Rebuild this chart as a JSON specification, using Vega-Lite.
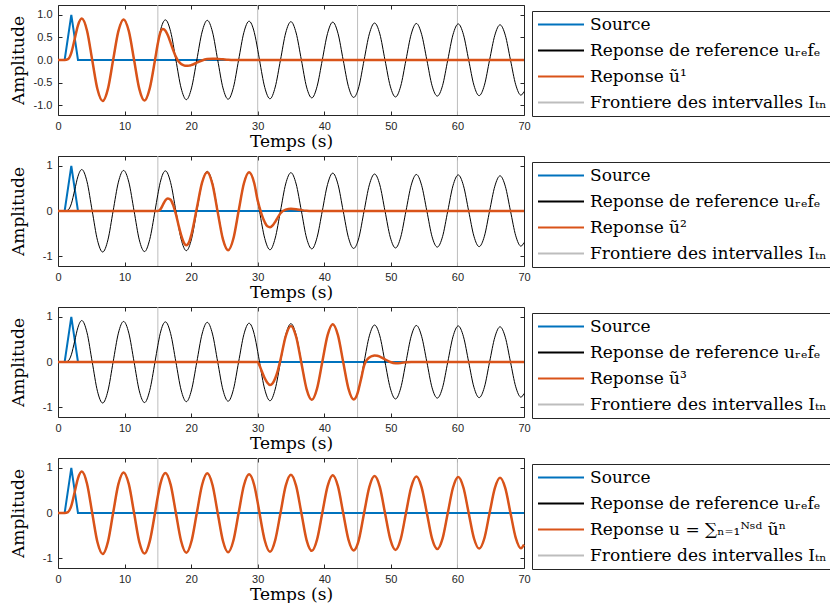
{
  "$schema": "https://vega.github.io/schema/vega-lite/v6.json",
  "background": "white",
  "padding": {"left": 8, "top": 4, "right": 0, "bottom": 0},
  "spacing": 5,
  "datasets": {
    "bnd": [{"t": 15}, {"t": 30}, {"t": 45}, {"t": 60}],
    "src": [{"t": 0, "y": 0}, {"t": 1, "y": 0}, {"t": 2, "y": 1}, {"t": 3, "y": 0}, {"t": 70, "y": 0}],
    "ref": [
      {"t": 0, "y": 0}, {"t": 1, "y": 0}, {"t": 1.5, "y": 0.02}, {"t": 2, "y": 0.16}, {"t": 2.5, "y": 0.46}, {"t": 3, "y": 0.77},
      {"t": 3.57, "y": 0.92}, {"t": 4.36, "y": 0.65}, {"t": 5.14, "y": 0}, {"t": 5.93, "y": -0.65}, {"t": 6.71, "y": -0.91}, {"t": 7.5, "y": -0.64},
      {"t": 8.28, "y": 0}, {"t": 9.07, "y": 0.64}, {"t": 9.85, "y": 0.9}, {"t": 10.64, "y": 0.64}, {"t": 11.43, "y": 0}, {"t": 12.21, "y": -0.64},
      {"t": 13, "y": -0.9}, {"t": 13.78, "y": -0.63}, {"t": 14.57, "y": 0}, {"t": 15, "y": 0.37}, {"t": 15.35, "y": 0.63}, {"t": 16.14, "y": 0.89},
      {"t": 16.92, "y": 0.63}, {"t": 17.71, "y": 0}, {"t": 18.49, "y": -0.62}, {"t": 19.28, "y": -0.88}, {"t": 20.06, "y": -0.62}, {"t": 20.85, "y": 0},
      {"t": 21.64, "y": 0.62}, {"t": 22.42, "y": 0.88}, {"t": 23.21, "y": 0.62}, {"t": 23.99, "y": 0}, {"t": 24.78, "y": -0.62}, {"t": 25.56, "y": -0.87},
      {"t": 26.35, "y": -0.61}, {"t": 27.13, "y": 0}, {"t": 27.92, "y": 0.61}, {"t": 28.7, "y": 0.86}, {"t": 29.49, "y": 0.61}, {"t": 30, "y": 0.23},
      {"t": 30.27, "y": 0}, {"t": 31.06, "y": -0.61}, {"t": 31.85, "y": -0.86}, {"t": 32.63, "y": -0.6}, {"t": 33.42, "y": 0}, {"t": 34.2, "y": 0.6},
      {"t": 34.99, "y": 0.85}, {"t": 35.77, "y": 0.6}, {"t": 36.56, "y": 0}, {"t": 37.34, "y": -0.6}, {"t": 38.13, "y": -0.84}, {"t": 38.91, "y": -0.59},
      {"t": 39.7, "y": 0}, {"t": 40.49, "y": 0.59}, {"t": 41.27, "y": 0.84}, {"t": 42.06, "y": 0.59}, {"t": 42.84, "y": 0}, {"t": 43.63, "y": -0.59},
      {"t": 44.41, "y": -0.83}, {"t": 45, "y": -0.69}, {"t": 45.2, "y": -0.59}, {"t": 45.98, "y": 0}, {"t": 46.77, "y": 0.58}, {"t": 47.55, "y": 0.82},
      {"t": 48.34, "y": 0.58}, {"t": 49.12, "y": 0}, {"t": 49.91, "y": -0.58}, {"t": 50.7, "y": -0.82}, {"t": 51.48, "y": -0.58}, {"t": 52.27, "y": 0},
      {"t": 53.05, "y": 0.57}, {"t": 53.84, "y": 0.81}, {"t": 54.62, "y": 0.57}, {"t": 55.41, "y": 0}, {"t": 56.19, "y": -0.57}, {"t": 56.98, "y": -0.8},
      {"t": 57.76, "y": -0.57}, {"t": 58.55, "y": 0}, {"t": 59.33, "y": 0.56}, {"t": 60.12, "y": 0.8}, {"t": 60.91, "y": 0.56}, {"t": 61.69, "y": 0},
      {"t": 62.48, "y": -0.56}, {"t": 63.26, "y": -0.79}, {"t": 64.05, "y": -0.56}, {"t": 64.83, "y": 0}, {"t": 65.62, "y": 0.55}, {"t": 66.4, "y": 0.78},
      {"t": 67.19, "y": 0.55}, {"t": 67.97, "y": 0}, {"t": 68.76, "y": -0.55}, {"t": 69.54, "y": -0.78}, {"t": 70, "y": -0.7}
    ],
    "u1": [
      {"t": 0, "y": 0}, {"t": 1, "y": 0}, {"t": 1.5, "y": 0.02}, {"t": 2, "y": 0.16}, {"t": 2.5, "y": 0.46}, {"t": 3, "y": 0.77},
      {"t": 3.57, "y": 0.92}, {"t": 4.36, "y": 0.65}, {"t": 5.14, "y": 0}, {"t": 5.93, "y": -0.65}, {"t": 6.71, "y": -0.91}, {"t": 7.5, "y": -0.64},
      {"t": 8.28, "y": 0}, {"t": 9.07, "y": 0.64}, {"t": 9.85, "y": 0.9}, {"t": 10.64, "y": 0.64}, {"t": 11.43, "y": 0}, {"t": 12.21, "y": -0.64},
      {"t": 13, "y": -0.9}, {"t": 13.78, "y": -0.63}, {"t": 14.57, "y": 0}, {"t": 15, "y": 0.37}, {"t": 15.35, "y": 0.6}, {"t": 15.75, "y": 0.69},
      {"t": 16.14, "y": 0.65}, {"t": 16.5, "y": 0.55}, {"t": 16.92, "y": 0.38}, {"t": 17.3, "y": 0.22}, {"t": 17.71, "y": 0.07}, {"t": 18.1, "y": -0.03},
      {"t": 18.49, "y": -0.09}, {"t": 18.9, "y": -0.12}, {"t": 19.28, "y": -0.13}, {"t": 19.7, "y": -0.125}, {"t": 20.06, "y": -0.11}, {"t": 20.85, "y": -0.06},
      {"t": 21.64, "y": -0.01}, {"t": 22.42, "y": 0.02}, {"t": 23.21, "y": 0.03}, {"t": 23.99, "y": 0.025}, {"t": 24.78, "y": 0.015}, {"t": 25.56, "y": 0.005},
      {"t": 26.35, "y": 0}, {"t": 70, "y": 0}
    ],
    "u2": [
      {"t": 0, "y": 0}, {"t": 15, "y": 0}, {"t": 15.35, "y": 0.03}, {"t": 15.75, "y": 0.135}, {"t": 16.14, "y": 0.24}, {"t": 16.5, "y": 0.28},
      {"t": 16.92, "y": 0.25}, {"t": 17.3, "y": 0.13}, {"t": 17.71, "y": -0.07}, {"t": 18.1, "y": -0.31}, {"t": 18.49, "y": -0.53}, {"t": 18.9, "y": -0.7},
      {"t": 19.28, "y": -0.76}, {"t": 19.7, "y": -0.69}, {"t": 20.06, "y": -0.51}, {"t": 20.85, "y": 0.06}, {"t": 21.64, "y": 0.63}, {"t": 22.42, "y": 0.86},
      {"t": 23.21, "y": 0.59}, {"t": 23.99, "y": -0.025}, {"t": 24.78, "y": -0.63}, {"t": 25.56, "y": -0.87}, {"t": 26.35, "y": -0.61}, {"t": 27.13, "y": 0},
      {"t": 27.92, "y": 0.61}, {"t": 28.7, "y": 0.86}, {"t": 29.49, "y": 0.61}, {"t": 30, "y": 0.23}, {"t": 30.27, "y": 0.08}, {"t": 30.6, "y": -0.08},
      {"t": 31.06, "y": -0.25}, {"t": 31.45, "y": -0.34}, {"t": 31.85, "y": -0.36}, {"t": 32.25, "y": -0.32}, {"t": 32.63, "y": -0.24}, {"t": 33.02, "y": -0.14},
      {"t": 33.42, "y": -0.05}, {"t": 34.2, "y": 0.03}, {"t": 34.99, "y": 0.05}, {"t": 35.77, "y": 0.04}, {"t": 36.56, "y": 0.02}, {"t": 37.34, "y": 0.005},
      {"t": 38.13, "y": 0}, {"t": 70, "y": 0}
    ],
    "u3": [
      {"t": 0, "y": 0}, {"t": 30, "y": 0}, {"t": 30.27, "y": -0.08}, {"t": 30.6, "y": -0.2}, {"t": 31.06, "y": -0.36}, {"t": 31.45, "y": -0.46},
      {"t": 31.85, "y": -0.51}, {"t": 32.25, "y": -0.47}, {"t": 32.63, "y": -0.36}, {"t": 33.02, "y": -0.19}, {"t": 33.42, "y": 0.05}, {"t": 34.2, "y": 0.57},
      {"t": 34.99, "y": 0.8}, {"t": 35.77, "y": 0.56}, {"t": 36.56, "y": -0.02}, {"t": 37.34, "y": -0.6}, {"t": 38.13, "y": -0.84}, {"t": 38.91, "y": -0.59},
      {"t": 39.7, "y": 0}, {"t": 40.49, "y": 0.59}, {"t": 41.27, "y": 0.84}, {"t": 42.06, "y": 0.59}, {"t": 42.84, "y": 0}, {"t": 43.63, "y": -0.59},
      {"t": 44.41, "y": -0.83}, {"t": 45, "y": -0.69}, {"t": 45.2, "y": -0.58}, {"t": 45.6, "y": -0.33}, {"t": 45.98, "y": -0.08}, {"t": 46.37, "y": 0.04},
      {"t": 46.77, "y": 0.1}, {"t": 47.16, "y": 0.13}, {"t": 47.55, "y": 0.145}, {"t": 47.95, "y": 0.14}, {"t": 48.34, "y": 0.12}, {"t": 49.12, "y": 0.06},
      {"t": 49.91, "y": 0}, {"t": 50.7, "y": -0.025}, {"t": 51.48, "y": -0.02}, {"t": 52.27, "y": -0.005}, {"t": 53.05, "y": 0}, {"t": 70, "y": 0}
    ]
  },
  "config": {
    "view": {"stroke": "#262626", "strokeWidth": 1},
    "axis": {
      "labelFont": "Liberation Sans", "labelFontSize": 11, "labelColor": "#262626",
      "tickColor": "#262626", "tickSize": -4, "tickWidth": 1, "domain": false, "grid": false,
      "titleFont": "DejaVu Serif", "titleFontSize": 17, "titleFontWeight": "normal", "titleColor": "#000000",
      "labelFlush": false
    },
    "legend": {
      "symbolType": "stroke", "symbolSize": 2116, "symbolStrokeWidth": 2, "clipHeight": 17, "rowPadding": 8, "padding": 5,
      "labelFont": "DejaVu Serif", "labelFontSize": 17, "labelColor": "#000000", "labelLimit": 600, "labelOffset": 5,
      "strokeColor": "#262626", "fillColor": "white"
    },
    "line": {"interpolate": "monotone"}
  },
  "resolve": {
    "scale": {"color": "independent"},
    "legend": {"color": "independent"}
  },
  "vconcat": [
    {
      "width": 466, "height": 110,
      "resolve": {"axis": {"x": "independent", "y": "independent"}},
      "layer": [
        {
          "data": {"name": "bnd"}, "mark": {"type": "rule", "strokeWidth": 1},
          "encoding": {
            "x": {"field": "t", "type": "quantitative", "scale": {"domain": [0, 70], "nice": false},
                  "axis": {"orient": "bottom", "values": [0, 10, 20, 30, 40, 50, 60, 70], "title": "Temps (s)", "labelPadding": 9, "titlePadding": 2}},
            "color": {"datum": "Frontiere des intervalles Iₜₙ", "type": "nominal",
                      "scale": {"domain": ["Source", "Reponse de reference uᵣₑfₑ", "Reponse ũ¹", "Frontiere des intervalles Iₜₙ"], "range": ["#0072BD", "#000000", "#D95319", "#BDBDBD"]},
                      "legend": {"title": null, "orient": "none", "legendX": 474, "legendY": 6}}
          }
        },
        {
          "data": {"name": "src"}, "mark": {"type": "line", "interpolate": "linear", "strokeWidth": 2},
          "encoding": {
            "x": {"field": "t", "type": "quantitative", "axis": null},
            "y": {"field": "y", "type": "quantitative", "scale": {"domain": [-1.22, 1.22], "nice": false},
                  "axis": {"orient": "left", "values": [-1, -0.5, 0, 0.5, 1], "title": "Amplitude", "labelPadding": 10, "titlePadding": 7, "minExtent": 24, "maxExtent": 24, "labelExpr": "replace(datum.label, '−', '-')"}},
            "color": {"datum": "Source", "type": "nominal"}
          }
        },
        {
          "data": {"name": "ref"}, "mark": {"type": "line", "strokeWidth": 1},
          "encoding": {
            "x": {"field": "t", "type": "quantitative", "axis": {"orient": "top", "values": [0, 10, 20, 30, 40, 50, 60, 70], "labels": false, "title": null, "minExtent": 0}},
            "y": {"field": "y", "type": "quantitative", "axis": {"orient": "right", "values": [-1, -0.5, 0, 0.5, 1], "labels": false, "title": null, "minExtent": 0}},
            "color": {"datum": "Reponse de reference uᵣₑfₑ", "type": "nominal"}
          }
        },
        {
          "data": {"name": "u1"}, "mark": {"type": "line", "strokeWidth": 2.5},
          "encoding": {
            "x": {"field": "t", "type": "quantitative", "axis": null},
            "y": {"field": "y", "type": "quantitative", "axis": null},
            "color": {"datum": "Reponse ũ¹", "type": "nominal"}
          }
        }
      ]
    },
    {
      "width": 466, "height": 110,
      "resolve": {"axis": {"x": "independent", "y": "independent"}},
      "layer": [
        {
          "data": {"name": "bnd"}, "mark": {"type": "rule", "strokeWidth": 1},
          "encoding": {
            "x": {"field": "t", "type": "quantitative", "scale": {"domain": [0, 70], "nice": false},
                  "axis": {"orient": "bottom", "values": [0, 10, 20, 30, 40, 50, 60, 70], "title": "Temps (s)", "labelPadding": 9, "titlePadding": 2}},
            "color": {"datum": "Frontiere des intervalles Iₜₙ", "type": "nominal",
                      "scale": {"domain": ["Source", "Reponse de reference uᵣₑfₑ", "Reponse ũ²", "Frontiere des intervalles Iₜₙ"], "range": ["#0072BD", "#000000", "#D95319", "#BDBDBD"]},
                      "legend": {"title": null, "orient": "none", "legendX": 474, "legendY": 6}}
          }
        },
        {
          "data": {"name": "src"}, "mark": {"type": "line", "interpolate": "linear", "strokeWidth": 2},
          "encoding": {
            "x": {"field": "t", "type": "quantitative", "axis": null},
            "y": {"field": "y", "type": "quantitative", "scale": {"domain": [-1.22, 1.22], "nice": false},
                  "axis": {"orient": "left", "values": [-1, 0, 1], "title": "Amplitude", "labelPadding": 10, "titlePadding": 7, "minExtent": 24, "maxExtent": 24, "labelExpr": "replace(datum.label, '−', '-')"}},
            "color": {"datum": "Source", "type": "nominal"}
          }
        },
        {
          "data": {"name": "ref"}, "mark": {"type": "line", "strokeWidth": 1},
          "encoding": {
            "x": {"field": "t", "type": "quantitative", "axis": {"orient": "top", "values": [0, 10, 20, 30, 40, 50, 60, 70], "labels": false, "title": null, "minExtent": 0}},
            "y": {"field": "y", "type": "quantitative", "axis": {"orient": "right", "values": [-1, 0, 1], "labels": false, "title": null, "minExtent": 0}},
            "color": {"datum": "Reponse de reference uᵣₑfₑ", "type": "nominal"}
          }
        },
        {
          "data": {"name": "u2"}, "mark": {"type": "line", "strokeWidth": 2.5},
          "encoding": {
            "x": {"field": "t", "type": "quantitative", "axis": null},
            "y": {"field": "y", "type": "quantitative", "axis": null},
            "color": {"datum": "Reponse ũ²", "type": "nominal"}
          }
        }
      ]
    },
    {
      "width": 466, "height": 110,
      "resolve": {"axis": {"x": "independent", "y": "independent"}},
      "layer": [
        {
          "data": {"name": "bnd"}, "mark": {"type": "rule", "strokeWidth": 1},
          "encoding": {
            "x": {"field": "t", "type": "quantitative", "scale": {"domain": [0, 70], "nice": false},
                  "axis": {"orient": "bottom", "values": [0, 10, 20, 30, 40, 50, 60, 70], "title": "Temps (s)", "labelPadding": 9, "titlePadding": 2}},
            "color": {"datum": "Frontiere des intervalles Iₜₙ", "type": "nominal",
                      "scale": {"domain": ["Source", "Reponse de reference uᵣₑfₑ", "Reponse ũ³", "Frontiere des intervalles Iₜₙ"], "range": ["#0072BD", "#000000", "#D95319", "#BDBDBD"]},
                      "legend": {"title": null, "orient": "none", "legendX": 474, "legendY": 6}}
          }
        },
        {
          "data": {"name": "src"}, "mark": {"type": "line", "interpolate": "linear", "strokeWidth": 2},
          "encoding": {
            "x": {"field": "t", "type": "quantitative", "axis": null},
            "y": {"field": "y", "type": "quantitative", "scale": {"domain": [-1.22, 1.22], "nice": false},
                  "axis": {"orient": "left", "values": [-1, 0, 1], "title": "Amplitude", "labelPadding": 10, "titlePadding": 7, "minExtent": 24, "maxExtent": 24, "labelExpr": "replace(datum.label, '−', '-')"}},
            "color": {"datum": "Source", "type": "nominal"}
          }
        },
        {
          "data": {"name": "ref"}, "mark": {"type": "line", "strokeWidth": 1},
          "encoding": {
            "x": {"field": "t", "type": "quantitative", "axis": {"orient": "top", "values": [0, 10, 20, 30, 40, 50, 60, 70], "labels": false, "title": null, "minExtent": 0}},
            "y": {"field": "y", "type": "quantitative", "axis": {"orient": "right", "values": [-1, 0, 1], "labels": false, "title": null, "minExtent": 0}},
            "color": {"datum": "Reponse de reference uᵣₑfₑ", "type": "nominal"}
          }
        },
        {
          "data": {"name": "u3"}, "mark": {"type": "line", "strokeWidth": 2.5},
          "encoding": {
            "x": {"field": "t", "type": "quantitative", "axis": null},
            "y": {"field": "y", "type": "quantitative", "axis": null},
            "color": {"datum": "Reponse ũ³", "type": "nominal"}
          }
        }
      ]
    },
    {
      "width": 466, "height": 110,
      "resolve": {"axis": {"x": "independent", "y": "independent"}},
      "layer": [
        {
          "data": {"name": "bnd"}, "mark": {"type": "rule", "strokeWidth": 1},
          "encoding": {
            "x": {"field": "t", "type": "quantitative", "scale": {"domain": [0, 70], "nice": false},
                  "axis": {"orient": "bottom", "values": [0, 10, 20, 30, 40, 50, 60, 70], "title": "Temps (s)", "labelPadding": 9, "titlePadding": 2}},
            "color": {"datum": "Frontiere des intervalles Iₜₙ", "type": "nominal",
                      "scale": {"domain": ["Source", "Reponse de reference uᵣₑfₑ", "Reponse u = ∑ₙ₌₁ᴺˢᵈ ũⁿ", "Frontiere des intervalles Iₜₙ"], "range": ["#0072BD", "#000000", "#D95319", "#BDBDBD"]},
                      "legend": {"title": null, "orient": "none", "legendX": 474, "legendY": 6}}
          }
        },
        {
          "data": {"name": "src"}, "mark": {"type": "line", "interpolate": "linear", "strokeWidth": 2},
          "encoding": {
            "x": {"field": "t", "type": "quantitative", "axis": null},
            "y": {"field": "y", "type": "quantitative", "scale": {"domain": [-1.22, 1.22], "nice": false},
                  "axis": {"orient": "left", "values": [-1, 0, 1], "title": "Amplitude", "labelPadding": 10, "titlePadding": 7, "minExtent": 24, "maxExtent": 24, "labelExpr": "replace(datum.label, '−', '-')"}},
            "color": {"datum": "Source", "type": "nominal"}
          }
        },
        {
          "data": {"name": "ref"}, "mark": {"type": "line", "strokeWidth": 1},
          "encoding": {
            "x": {"field": "t", "type": "quantitative", "axis": {"orient": "top", "values": [0, 10, 20, 30, 40, 50, 60, 70], "labels": false, "title": null, "minExtent": 0}},
            "y": {"field": "y", "type": "quantitative", "axis": {"orient": "right", "values": [-1, 0, 1], "labels": false, "title": null, "minExtent": 0}},
            "color": {"datum": "Reponse de reference uᵣₑfₑ", "type": "nominal"}
          }
        },
        {
          "data": {"name": "ref"}, "mark": {"type": "line", "strokeWidth": 2.5},
          "encoding": {
            "x": {"field": "t", "type": "quantitative", "axis": null},
            "y": {"field": "y", "type": "quantitative", "axis": null},
            "color": {"datum": "Reponse u = ∑ₙ₌₁ᴺˢᵈ ũⁿ", "type": "nominal"}
          }
        }
      ]
    }
  ]
}
